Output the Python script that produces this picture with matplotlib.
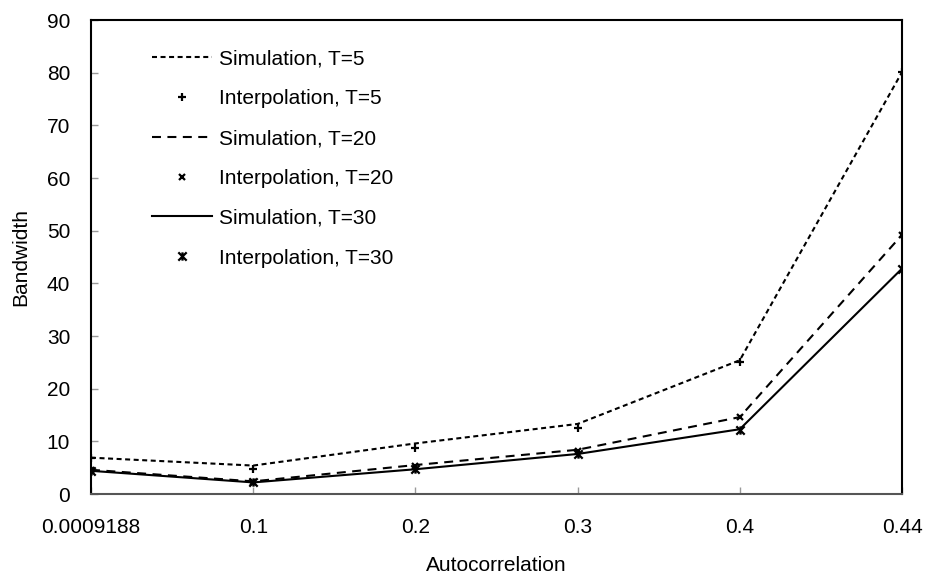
import matplotlib
matplotlib.use("Agg")
import matplotlib.pyplot as plt
from matplotlib.path import Path

categories = ["0.0009188", "0.1", "0.2", "0.3", "0.4", "0.44"]
sim_t5 = [6.9, 5.4, 9.6, 13.3, 25.4, 80.1]
interp_t5 = [6.9, 4.7, 8.7, 12.5, 25.0, 80.1]
sim_t20 = [4.6, 2.4, 5.5, 8.4, 14.6, 49.2]
interp_t20 = [4.5, 2.3, 5.3, 8.2, 14.6, 49.2]
sim_t30 = [4.4, 2.2, 4.7, 7.6, 12.3, 42.8]
interp_t30 = [4.4, 2.2, 4.7, 7.6, 12.1, 42.8]
yticks = [0, 10, 20, 30, 40, 50, 60, 70, 80, 90]

plt.rcParams['font.family'] = ['Liberation Sans', 'DejaVu Sans']
fs = 15

star = Path([(-1, -1), (1, 1), (-1, 1), (1, -1), (0, -1), (0, 1)],
            [Path.MOVETO, Path.LINETO, Path.MOVETO, Path.LINETO, Path.MOVETO, Path.LINETO])

fig = plt.figure(figsize=(9.25, 5.77), dpi=100)
W, H = 925, 577
left, right, top, bottom = 91, 902, 20, 494
ax = fig.add_axes([left / W, 1 - bottom / H, (right - left) / W, (bottom - top) / H])

x = list(range(len(categories)))
lw = 1.5
ax.plot(x, sim_t5, color='black', lw=lw, dashes=(2.4, 1.7), label='Simulation, T=5')
ax.plot(x, interp_t5, ls='none', marker='+', ms=6, mew=1.6, color='black', label='Interpolation, T=5')
ax.plot(x, sim_t20, color='black', lw=lw, dashes=(4.3, 3.1), label='Simulation, T=20')
ax.plot(x, interp_t20, ls='none', marker='x', ms=5, mew=1.6, color='black', label='Interpolation, T=20')
ax.plot(x, sim_t30, color='black', lw=lw, label='Simulation, T=30')
ax.plot(x, interp_t30, ls='none', marker=star, ms=6, mew=1.6, color='black', label='Interpolation, T=30')

ax.set_xlim(0, 5)
ax.set_ylim(0, 90)
ax.set_xticks(x)
ax.set_xticklabels(categories, fontsize=fs)
ax.set_yticks(yticks)
ax.set_yticklabels([str(v) for v in yticks], fontsize=fs)
ax.tick_params(direction='in', length=5, color='#999999', width=1)
ax.tick_params(axis='y', pad=15)
ax.tick_params(axis='x', pad=17)
for s in ['top', 'right', 'left']:
    ax.spines[s].set_color('black')
    ax.spines[s].set_linewidth(1.5)
ax.spines['bottom'].set_color('#555555')
ax.spines['bottom'].set_linewidth(1.5)

ax.set_xlabel('Autocorrelation', fontsize=fs, labelpad=14)
ax.set_ylabel('Bandwidth', fontsize=fs, labelpad=12)

leg = ax.legend(loc='upper left', bbox_to_anchor=(0.075, 0.938), frameon=False,
                fontsize=fs, handlelength=2.88, handletextpad=0.34,
                labelspacing=1.0, borderpad=0, borderaxespad=0)

fig.savefig('out.png', dpi=100)
